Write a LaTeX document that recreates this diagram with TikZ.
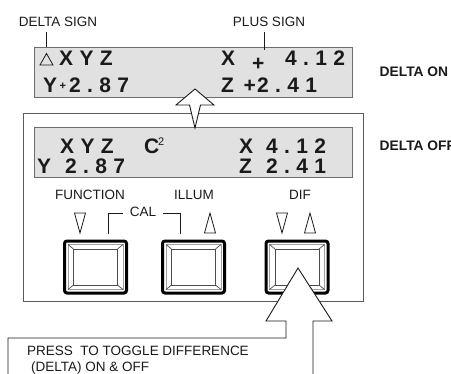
\documentclass[tikz,border=0pt]{standalone}
\usepackage{fontspec}
\setmainfont{Liberation Sans}
\newfontfamily\dispfont[LetterSpace=30]{Liberation Sans}
\definecolor{dispfill}{HTML}{E1E1E1}
\definecolor{dispedge}{HTML}{6E6E6E}
\definecolor{panedge}{HTML}{5A5A5A}
\definecolor{inkc}{HTML}{1A1A1A}
\newcommand{\drawbtn}[1]{%
 \begin{scope}[shift={(#1,0)}]
 \draw[line width=3bp,rounded corners=2.5bp] (-31,241) rectangle (31,293);
 \draw[gray!75,line width=0.8bp] (-27.5,244.5) rectangle (27.5,289.5);
 \draw[gray!60!black,line width=0.9bp] (-22,249) rectangle (22,285);
 \draw[gray!60!black,line width=0.7bp] (-27.5,244.5) -- (-22,249) (27.5,244.5) -- (22,249) (-27.5,289.5) -- (-22,285) (27.5,289.5) -- (22,285);
 \end{scope}}
\tikzset{
 lbl/.style={font=\fontsize{13.5bp}{16bp}\selectfont, text=inkc, inner sep=0pt},
 blbl/.style={font=\fontsize{13.8bp}{16bp}\selectfont\bfseries, text=inkc, inner sep=0pt, anchor=west},
 dsp/.style={font=\fontsize{21bp}{24bp}\selectfont\dispfont\bfseries, text=inkc, inner sep=0pt, anchor=base west},
 dplus/.style={font=\fontsize{21bp}{24bp}\selectfont\bfseries, text=inkc, inner sep=0pt, anchor=base west},
 dispbox/.style={draw=dispedge, fill=dispfill, line width=1bp},
 leader/.style={draw=inkc, line width=0.8bp},
 tri/.style={draw=inkc, line width=0.8bp},
 arrowshape/.style={draw=inkc, fill=white, line width=0.9bp, line join=miter}
}
\begin{document}
\begin{tikzpicture}[x=1bp,y=-1bp]
\useasboundingbox (0,0) rectangle (451,373);
\clip (0,0) rectangle (451,373);
% ---------- top display (delta on)
\draw[dispbox] (34,47) rectangle (352,97);
\draw[tri] (40,65) -- (53,65) -- (46.5,53.5) -- cycle;
\node[dsp] (t1) at (59,65) {XYZ};
\node[dsp] (t2) at (221,65) {X};
\node[dplus] (t3) at (252,70) {+};
\node[dsp] (t4) at (285,65) {4.12};
\node[dsp] (t5) at (43,92) {Y};
\node[dplus,font=\fontsize{11bp}{12bp}\selectfont\bfseries] (t6) at (59.5,89) {+};
\node[dsp] (t7) at (69,92) {2.87};
\node[dsp] (t8) at (221,92) {Z};
\node[dplus] (t9) at (243.5,92) {+};
\node[dsp] (t10) at (257,92) {2.41};
% labels
\node[lbl] (dsign) at (58,22) {DELTA SIGN};
\node[lbl] (psign) at (269,22) {PLUS SIGN};
\coordinate (ds1) at (46,32); \coordinate (ds2) at (46,47);
\coordinate (ps1) at (264,32); \coordinate (ps2) at (264,50);
\draw[leader] (ds1) -- (ds2);
\draw[leader] (ps1) -- (ps2);
\node[blbl] (don) at (379.5,72) {DELTA ON};
\node[blbl] (doff) at (379.5,146) {DELTA OFF};
% ---------- panel
\draw[draw=panedge, line width=1bp] (23,113) rectangle (363,301);
\draw[dispbox] (34,127) rectangle (352,177);
\node[dsp] (b1) at (60,153) {XYZ};
\node[dsp] (b2) at (144,153) {C};
\node[lbl,font=\fontsize{11bp}{12bp}\selectfont, anchor=base west] (b3) at (158,145) {2};
\node[dsp] (b4) at (239,153) {X};
\node[dsp] (b5) at (266,153) {4.12};
\node[dsp] (b6) at (37,173) {Y};
\node[dsp] (b7) at (65,173) {2.87};
\node[dsp] (b8) at (239,173) {Z};
\node[dsp] (b9) at (266,173) {2.41};
\node[lbl] (fn) at (90,195) {FUNCTION};
\node[lbl] (il) at (194,195) {ILLUM};
\node[lbl] (df) at (300,195) {DIF};
\node[lbl] (cal) at (143,212) {CAL};
\draw[leader] (108,234) -- (108,213) -- (123,213);
\draw[leader] (163,213) -- (180,213) -- (180,234);
\draw[tri] (74.5,213) -- (85.5,213) -- (80,233) -- cycle;
\draw[tri] (204.5,233) -- (215.5,233) -- (210,213) -- cycle;
\draw[tri] (276.5,213) -- (287.5,213) -- (282,233) -- cycle;
\draw[tri] (304.5,233) -- (315.5,233) -- (310,213) -- cycle;
\drawbtn{95.5}
\drawbtn{193.5}
\drawbtn{297}
% ---------- arrows
\filldraw[arrowshape] (176,105) -- (195,89) -- (214,105) -- (200.5,105) -- (195,128) -- (189.5,105) -- cycle;
\filldraw[arrowshape] (8,385) -- (8,338) -- (286,338) -- (286,321) -- (266,321) -- (298,268) -- (332,321) -- (313,321) -- (313,385);
\node[lbl, anchor=base west] (press1) at (27,355) {PRESS\ \ TO TOGGLE DIFFERENCE};
\node[lbl, anchor=base west] (press2) at (31,371) {(DELTA) ON \& OFF};
\end{tikzpicture}
\end{document}
